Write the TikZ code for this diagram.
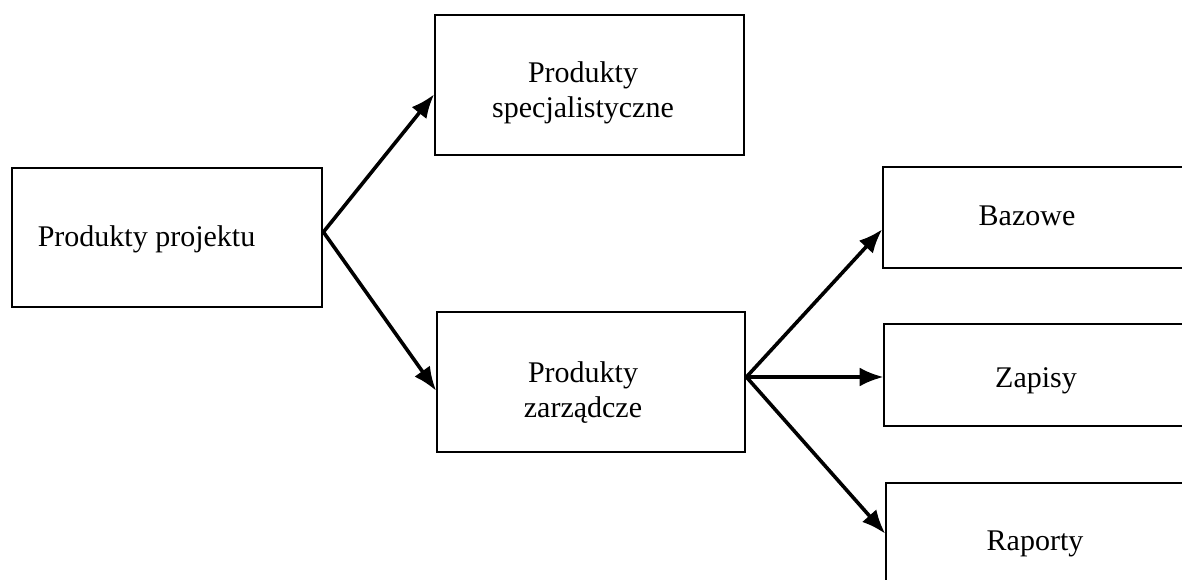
\documentclass[tikz,border=0pt]{standalone}
\usepackage{fontspec}
\setmainfont{Liberation Serif}
\usetikzlibrary{arrows.meta}
\begin{document}
\begin{tikzpicture}[x=1pt,y=-1pt,
  box/.style={draw=black, line width=2.8pt, inner sep=0pt, fill=none},
  lbl/.style={anchor=base, inner sep=0pt, align=center, font=\fontsize{30}{35}\selectfont},
  conn/.style={line width=3.6pt, -{Latex[length=24pt,width=19pt]}, shorten >=-1pt}]
\useasboundingbox (0,0) rectangle (1182,580);
\clip (0,0) rectangle (1182,580);
% boxes
\node[box, minimum width=310pt, minimum height=139pt] (A) at (167,237.5) {};
\node[box, minimum width=309pt, minimum height=140pt] (B) at (589.5,85) {};
\node[box, minimum width=308pt, minimum height=140pt] (C) at (591,382) {};
\node[box, minimum width=320pt, minimum height=101pt] (D) at (1043,217.5) {};
\node[box, minimum width=320pt, minimum height=102pt] (E) at (1044,375) {};
\node[box, minimum width=320pt, minimum height=140pt] (F) at (1046,553) {};
% texts (base anchor = baseline of last line)
\node[lbl] (tA) at (146.5,246) {Produkty projektu};
\node[lbl] (tB) at (583,118) {Produkty\\specjalistyczne};
\node[lbl] (tC) at (583,417) {Produkty\\zarządcze};
\node[lbl] (tD) at (1027,225) {Bazowe};
\node[lbl] (tE) at (1036,387) {Zapisy};
\node[lbl] (tF) at (1035,550) {Raporty};
% connector end points
\coordinate (a0) at ([yshift=5.5pt]A.east);
\coordinate (c0) at ([yshift=5pt]C.east);
% connectors
\draw[conn] (a0) -- ([yshift=-10pt]B.west);
\draw[conn] (a0) -- ([yshift=-8pt]C.west);
\draw[conn] (c0) -- ([yshift=-12.5pt]D.west);
\draw[conn] (c0) -- ([yshift=-2pt]E.west);
\draw[conn] (c0) -- ([yshift=20pt]F.west);
\end{tikzpicture}
\end{document}
